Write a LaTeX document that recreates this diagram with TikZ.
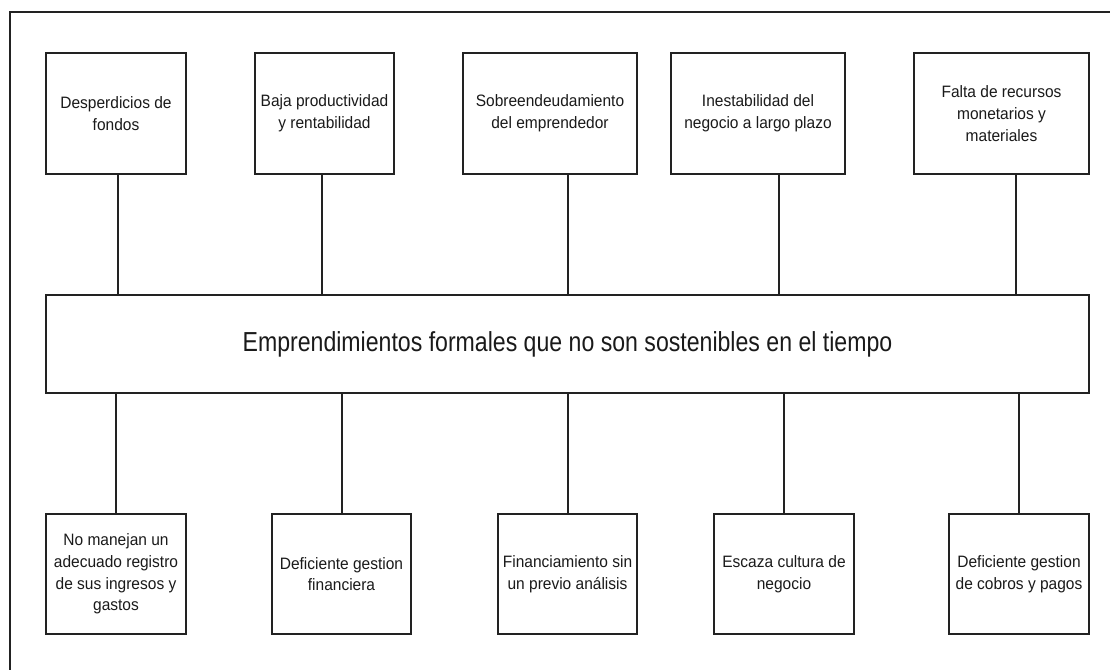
\documentclass[tikz,border=0pt]{standalone}
\usepackage{fontspec}
\setmainfont{Liberation Sans}
\newfontfamily\titlefont[FakeStretch=0.84]{Liberation Sans}
\newfontfamily\boxfont[FakeStretch=0.94]{Liberation Sans}
\definecolor{linec}{HTML}{222222}
\definecolor{textc}{HTML}{1A1A1A}
\begin{document}
\begin{tikzpicture}[x=1pt,y=-1pt,
  cbox/.style={draw=linec, line width=2pt, fill=white, inner sep=0pt, anchor=north west,
    align=center, text=textc, font=\boxfont\fontsize{16.5}{21.7}\selectfont, minimum height=121pt},
  mainbox/.style={draw=linec, line width=2pt, fill=white, inner sep=0pt, anchor=north west,
    align=center, text=textc, font=\titlefont\fontsize{27.5}{30}\selectfont, minimum height=98pt, minimum width=1043pt},
  conn/.style={draw=linec, line width=2pt}
]
\useasboundingbox (0,0) rectangle (1110,669);
\draw[linec, line width=2pt] (10,675) -- (10,12) -- (1115,12);

% top boxes
\node[cbox, minimum width=140pt] (t1) at (45,52) {Desperdicios de\\fondos};
\node[cbox, minimum width=139pt] (t2) at (254,52) {Baja productividad\\y rentabilidad};
\node[cbox, minimum width=174pt] (t3) at (462,52) {Sobreendeudamiento\\del emprendedor};
\node[cbox, minimum width=174pt] (t4) at (670,52) {Inestabilidad del\\negocio a largo plazo};
\node[cbox, minimum width=175pt] (t5) at (913,52) {Falta de recursos\\monetarios y\\materiales};

% main box
\node[mainbox] (c) at (45,294) {Emprendimientos formales que no son sostenibles en el tiempo};

% bottom boxes
\node[cbox, minimum width=140pt, minimum height=120pt] (b1) at (45,513) {No manejan un\\adecuado registro\\de sus ingresos y\\gastos};
\node[cbox, minimum width=139pt, minimum height=120pt] (b2) at (271,513) {Deficiente gestion\\financiera};
\node[cbox, minimum width=139pt, minimum height=120pt] (b3) at (497,513) {Financiamiento sin\\un previo análisis};
\node[cbox, minimum width=140pt, minimum height=120pt] (b4) at (713,513) {Escaza cultura de\\negocio};
\node[cbox, minimum width=140pt, minimum height=120pt] (b5) at (948,513) {Deficiente gestion\\de cobros y pagos};

% connectors top
\draw[conn] ([xshift=2pt]t1.south) -- ([xshift=2pt]t1.south |- c.north);
\draw[conn] ([xshift=-2.5pt]t2.south) -- ([xshift=-2.5pt]t2.south |- c.north);
\draw[conn] ([xshift=18pt]t3.south) -- ([xshift=18pt]t3.south |- c.north);
\draw[conn] ([xshift=21pt]t4.south) -- ([xshift=21pt]t4.south |- c.north);
\draw[conn] ([xshift=14.5pt]t5.south) -- ([xshift=14.5pt]t5.south |- c.north);

% connectors bottom
\draw[conn] (b1.north) -- (b1.north |- c.south);
\draw[conn] (b2.north) -- (b2.north |- c.south);
\draw[conn] (b3.north) -- (b3.north |- c.south);
\draw[conn] (b4.north) -- (b4.north |- c.south);
\draw[conn] (b5.north) -- (b5.north |- c.south);
\end{tikzpicture}
\end{document}
